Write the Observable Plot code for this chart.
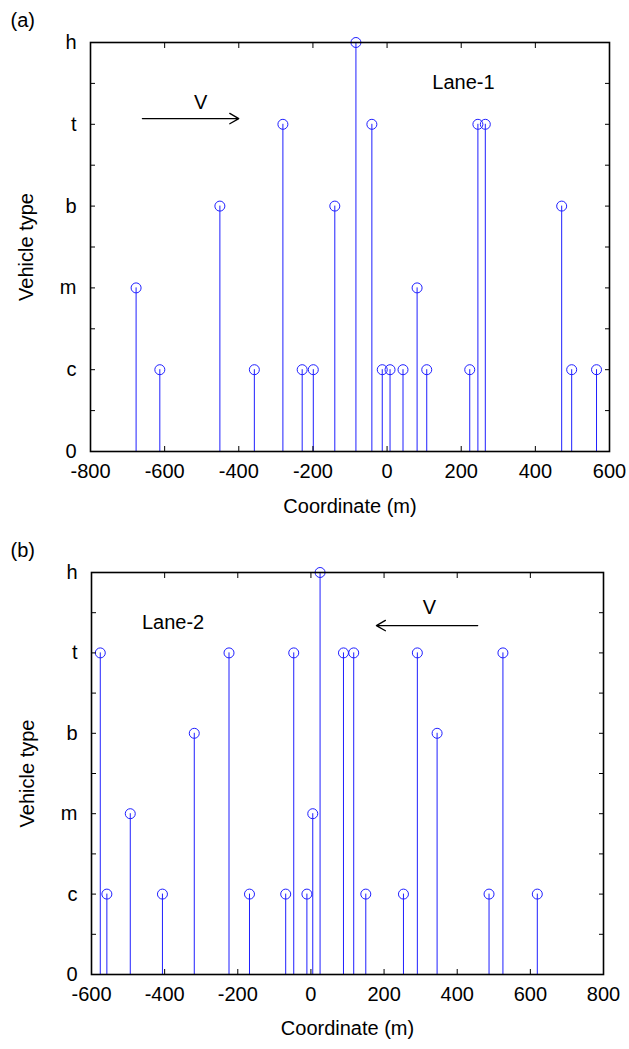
<!DOCTYPE html>
<html>
<head>
<meta charset="utf-8">
<script src="https://cdn.jsdelivr.net/npm/d3@7"></script>
<script src="https://cdn.jsdelivr.net/npm/@observablehq/plot@0.6"></script>
<style>
  html, body { margin: 0; padding: 0; background: #fff; }
  #chart svg { display: block; }
</style>
</head>
<body>
<div id="chart"></div>
<script>
// Vehicle type levels: 0, c, m, b, t, h
const typeLabels = ["0", "c", "m", "b", "t", "h"];

// Lane-1 (panel a)
const lane1X = [-677, -613, -451, -358, -281, -229, -199, -141, -84, -41, -13, 8, 43, 81, 107, 223, 245, 265, 471, 498, 565];
const lane1T = ["m", "c", "b", "c", "t", "c", "c", "b", "h", "t", "c", "c", "c", "m", "c", "c", "t", "t", "b", "c", "c"];

// Lane-2 (panel b)
const lane2X = [-576, -558, -494, -406, -319, -224, -168, -69, -47, -11, 5, 25, 89, 117, 150, 253, 291, 345, 487, 525, 619];
const lane2T = ["t", "c", "m", "c", "b", "t", "c", "c", "t", "c", "m", "h", "t", "t", "c", "c", "t", "b", "c", "t", "c"];

const xTicks1 = [-800, -600, -400, -200, 0, 200, 400, 600];
const xTicks2 = [-600, -400, -200, 0, 200, 400, 600, 800];
const yTicks = [0, 0.5, 1, 1.5, 2, 2.5, 3, 3.5, 4, 4.5, 5];

// annotations: [x, level]
const arrow1 = {x1: -660, x2: -400, y: 4.07};
const arrow2 = {x1: 456, x2: 179, y: 4.34};
const vLabel1 = {x: -503, y: 4.27};
const vLabel2 = {x: 324, y: 4.56};
const laneLabel1 = {x: 206, y: 4.51, text: "Lane-1"};
const laneLabel2 = {x: -377, y: 4.38, text: "Lane-2"};

const FONT = "'Liberation Sans', Arial, sans-serif";
const BLUE = "#1f1fff";
const FS = 20;

function panel({xs, ts, xDomain, xTicks, arrow, vLabel, laneLabel, tag, height, marginRight, marginLeft, marginBottom, labelOffsetX}) {
  const data = xs.map((x, i) => ({x, level: typeLabels.indexOf(ts[i])}));
  return Plot.plot({
    width: 629,
    height,
    marginTop: 42,
    marginLeft,
    marginRight,
    marginBottom,
    style: {fontFamily: FONT, fontSize: FS + "px", color: "#000", background: "#fff"},
    x: {domain: xDomain},
    y: {domain: [0, 5]},
    marks: [
      Plot.ruleX(data, {x: "x", y1: 0, y2: "level", stroke: BLUE, strokeWidth: 1}),
      Plot.dot(data, {x: "x", y: "level", r: 5, stroke: BLUE, fill: "none", strokeWidth: 1}),
      Plot.axisX({anchor: "bottom", ticks: xTicks, tickSize: -5, tickPadding: 17, tickFormat: d => String(d).replace("−", "-"),
        label: "Coordinate (m)", labelAnchor: "center", labelArrow: "none", labelOffset: labelOffsetX, fontSize: FS}),
      Plot.axisX({anchor: "top", ticks: xTicks, tickSize: -5, tickFormat: () => "", label: null}),
      Plot.axisY({anchor: "left", ticks: yTicks, tickSize: -5, tickPadding: 19,
        tickFormat: d => Number.isInteger(d) ? typeLabels[d] : "",
        label: "Vehicle type", labelAnchor: "center", labelArrow: "none", labelOffset: 72, fontSize: FS}),
      Plot.axisY({anchor: "right", ticks: yTicks, tickSize: -5, tickFormat: () => "", label: null}),
      Plot.frame({stroke: "#000", strokeWidth: 1.6}),
      Plot.arrow([arrow], {x1: "x1", x2: "x2", y1: "y", y2: "y", stroke: "#000", strokeWidth: 1.3, headLength: 12, bend: 0}),
      Plot.text([vLabel], {x: "x", y: "y", text: () => "V", fontSize: FS, fill: "#000"}),
      Plot.text([laneLabel], {x: "x", y: "y", text: "text", fontSize: FS, fill: "#000"}),
      Plot.text([tag], {frameAnchor: "top-left", text: d => d, dx: -marginLeft + 10, dy: -30, fontSize: FS, fill: "#000"})
    ]
  });
}

const chart = document.getElementById("chart");
chart.append(panel({xs: lane1X, ts: lane1T, xDomain: [-800, 600], xTicks: xTicks1, arrow: arrow1, vLabel: vLabel1,
  laneLabel: laneLabel1, tag: "(a)", height: 530, marginLeft: 90, marginRight: 20, marginBottom: 79, labelOffsetX: 61}));
chart.append(panel({xs: lane2X, ts: lane2T, xDomain: [-600, 800], xTicks: xTicks2, arrow: arrow2, vLabel: vLabel2,
  laneLabel: laneLabel2, tag: "(b)", height: 519, marginLeft: 91, marginRight: 26, marginBottom: 75, labelOffsetX: 60}));
</script>
</body>
</html>
